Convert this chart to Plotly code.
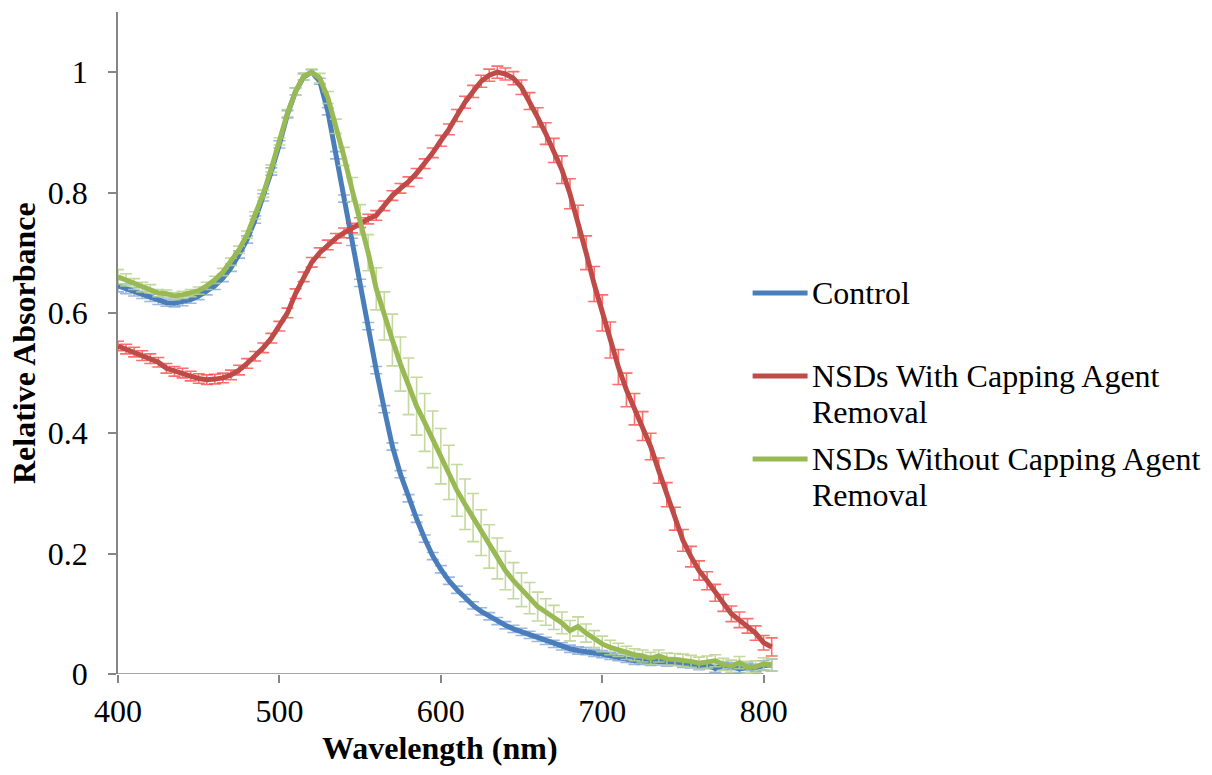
import plotly.graph_objects as go

# Wavelength grid (nm)
wavelength = list(range(400, 810, 5))

control = [
    0.645, 0.640, 0.635, 0.630, 0.625, 0.620, 0.617, 0.616, 0.618, 0.622,
    0.628, 0.636, 0.645, 0.658, 0.675, 0.697, 0.722, 0.755, 0.792, 0.835,
    0.880, 0.930, 0.968, 0.992, 1.000, 0.985, 0.935, 0.862, 0.790, 0.718,
    0.650, 0.578, 0.505, 0.440, 0.378, 0.332, 0.292, 0.258, 0.225, 0.196,
    0.174, 0.155, 0.140, 0.126, 0.114, 0.104, 0.096, 0.088, 0.081, 0.075,
    0.070, 0.065, 0.060, 0.055, 0.050, 0.046, 0.042, 0.039, 0.038, 0.035,
    0.033, 0.030, 0.028, 0.025, 0.022, 0.022, 0.020, 0.021, 0.019, 0.020,
    0.017, 0.016, 0.013, 0.015, 0.009, 0.014, 0.013, 0.008, 0.012, 0.010,
    0.014, 0.015,
]
control_err = [
    0.010, 0.008, 0.007, 0.006, 0.006, 0.006, 0.006, 0.006, 0.006, 0.006,
    0.006, 0.006, 0.006, 0.006, 0.006, 0.006, 0.006, 0.006, 0.006, 0.006,
    0.006, 0.006, 0.006, 0.005, 0.004, 0.005, 0.006, 0.006, 0.006, 0.006,
    0.006, 0.006, 0.006, 0.006, 0.006, 0.006, 0.006, 0.006, 0.006, 0.006,
    0.006, 0.006, 0.006, 0.006, 0.006, 0.006, 0.006, 0.006, 0.006, 0.006,
    0.006, 0.006, 0.006, 0.006, 0.006, 0.006, 0.006, 0.006, 0.006, 0.006,
    0.006, 0.006, 0.006, 0.006, 0.006, 0.006, 0.006, 0.006, 0.006, 0.006,
    0.006, 0.006, 0.006, 0.006, 0.006, 0.006, 0.006, 0.006, 0.006, 0.006,
    0.008, 0.010,
]

with_removal = [
    0.545, 0.540, 0.535, 0.529, 0.524, 0.518, 0.508, 0.503, 0.500, 0.495,
    0.491, 0.489, 0.490, 0.492, 0.497, 0.505, 0.516, 0.528, 0.542, 0.558,
    0.578, 0.600, 0.632, 0.660, 0.684, 0.700, 0.713, 0.724, 0.733, 0.741,
    0.750, 0.756, 0.762, 0.778, 0.795, 0.807, 0.818, 0.832, 0.848, 0.866,
    0.886, 0.905, 0.928, 0.950, 0.968, 0.985, 0.995, 1.000, 0.997, 0.990,
    0.975, 0.952, 0.925, 0.898, 0.870, 0.838, 0.798, 0.752, 0.700, 0.648,
    0.600, 0.555, 0.510, 0.472, 0.440, 0.412, 0.378, 0.338, 0.298, 0.258,
    0.222, 0.195, 0.172, 0.155, 0.135, 0.118, 0.100, 0.090, 0.080, 0.068,
    0.052, 0.045,
]
with_removal_err = [
    0.008, 0.008, 0.008, 0.008, 0.008, 0.008, 0.008, 0.008, 0.008, 0.008,
    0.008, 0.008, 0.008, 0.008, 0.008, 0.008, 0.008, 0.008, 0.008, 0.008,
    0.008, 0.008, 0.008, 0.008, 0.008, 0.008, 0.008, 0.008, 0.008, 0.008,
    0.008, 0.008, 0.008, 0.008, 0.008, 0.008, 0.008, 0.008, 0.008, 0.008,
    0.009, 0.009, 0.010, 0.010, 0.010, 0.010, 0.010, 0.010, 0.010, 0.011,
    0.012, 0.014, 0.016, 0.018, 0.020, 0.023, 0.025, 0.027, 0.028, 0.029,
    0.030, 0.030, 0.029, 0.028, 0.026, 0.024, 0.022, 0.021, 0.020, 0.019,
    0.018, 0.017, 0.016, 0.015, 0.014, 0.014, 0.013, 0.013, 0.012, 0.012,
    0.012, 0.015,
]

without_removal = [
    0.660, 0.655, 0.648, 0.643, 0.640, 0.633, 0.632, 0.628, 0.630, 0.633,
    0.637, 0.645, 0.655, 0.668, 0.685, 0.705, 0.730, 0.762, 0.798, 0.840,
    0.885, 0.932, 0.968, 0.993, 1.000, 0.990, 0.958, 0.910, 0.860, 0.805,
    0.755, 0.700, 0.640, 0.595, 0.555, 0.515, 0.478, 0.445, 0.418, 0.390,
    0.362, 0.335, 0.305, 0.282, 0.260, 0.235, 0.212, 0.192, 0.172, 0.155,
    0.140, 0.126, 0.112, 0.103, 0.094, 0.085, 0.072, 0.079, 0.068, 0.058,
    0.050, 0.044, 0.040, 0.035, 0.032, 0.030, 0.026, 0.030, 0.025, 0.024,
    0.023, 0.021, 0.018, 0.020, 0.022, 0.016, 0.013, 0.019, 0.011, 0.012,
    0.017, 0.015,
]
without_removal_err = [
    0.012, 0.010, 0.009, 0.008, 0.007, 0.006, 0.006, 0.006, 0.006, 0.006,
    0.006, 0.006, 0.006, 0.006, 0.006, 0.006, 0.006, 0.006, 0.006, 0.006,
    0.006, 0.006, 0.006, 0.006, 0.005, 0.008, 0.010, 0.012, 0.015, 0.020,
    0.025, 0.030, 0.035, 0.040, 0.043, 0.045, 0.047, 0.048, 0.048, 0.047,
    0.046, 0.045, 0.043, 0.042, 0.040, 0.038, 0.036, 0.034, 0.032, 0.030,
    0.028, 0.026, 0.024, 0.022, 0.020, 0.018, 0.017, 0.016, 0.015, 0.014,
    0.013, 0.012, 0.011, 0.011, 0.010, 0.010, 0.010, 0.010, 0.010, 0.010,
    0.010, 0.010, 0.010, 0.010, 0.010, 0.010, 0.010, 0.010, 0.010, 0.010,
    0.010, 0.010,
]

series_names = [
    "Control",
    "NSDs With Capping Agent Removal",
    "NSDs Without Capping Agent Removal",
]
# legend text, one entry per drawn line
legend_lines = [
    ["Control"],
    ["NSDs With Capping Agent", "Removal"],
    ["NSDs Without Capping Agent", "Removal"],
]
x_ticks = [400, 500, 600, 700, 800]
y_ticks = [0, 0.2, 0.4, 0.6, 0.8, 1]

FONT = "Liberation Serif"
FS = 32
AXIS_GRAY = "#868686"

# plot-area geometry in pixels (used to place the legend and titles)
L, T, W_PLOT, H_PLOT = 118, 12, 665.4, 662


def px_x(px):
    return (px - L) / W_PLOT


def px_y(py):
    return (T + H_PLOT - py) / H_PLOT


fig = go.Figure()

styles = [
    (control, control_err, "#4A7EBB", "rgba(120,160,215,0.75)"),
    (with_removal, with_removal_err, "#BE4B48", "rgba(255,60,60,0.75)"),
    (without_removal, without_removal_err, "#98B954", "rgba(185,210,140,0.85)"),
]
for name, (vals, errs, line_col, err_col) in zip(series_names, styles):
    fig.add_trace(go.Scatter(
        x=wavelength, y=vals, name=name, mode="lines",
        line=dict(color=line_col, width=5),
        error_y=dict(type="data", array=errs, visible=True,
                     color=err_col, thickness=1.6, width=6),
        showlegend=False,
        cliponaxis=False,
    ))

# x axis baseline spans only the labelled range
fig.add_shape(type="line", xref="x", yref="y", x0=400, x1=800, y0=0, y1=0,
              line=dict(color=AXIS_GRAY, width=1.5), layer="below")

annotations = [
    dict(text="<b>Wavelength (nm)</b>", xref="paper", yref="paper",
         x=px_x(440), y=px_y(748), xanchor="center", yanchor="middle",
         showarrow=False,
         font=dict(family=FONT, size=FS, color="#000000")),
    dict(text="<b>Relative Absorbance</b>", xref="paper", yref="paper",
         x=px_x(24), y=px_y(343), xanchor="center", yanchor="middle",
         showarrow=False, textangle=-90,
         font=dict(family=FONT, size=FS, color="#000000")),
]

# legend: line sample plus text lines
legend_rows = [293, 376, 459]
line_gap = 36
for (vals, errs, line_col, err_col), row_y, lines in zip(styles, legend_rows, legend_lines):
    fig.add_shape(type="line", xref="paper", yref="paper",
                  x0=px_x(753), x1=px_x(808), y0=px_y(row_y), y1=px_y(row_y),
                  line=dict(color=line_col, width=5))
    for i, txt in enumerate(lines):
        annotations.append(dict(
            text=txt, xref="paper", yref="paper",
            x=px_x(810), y=px_y(row_y + i * line_gap),
            xanchor="left", yanchor="middle", showarrow=False,
            font=dict(family=FONT, size=FS, color="#000000"),
        ))

fig.update_layout(
    width=1212, height=775,
    margin=dict(l=L, r=1212 - L - W_PLOT, t=T, b=775 - T - H_PLOT),
    paper_bgcolor="white", plot_bgcolor="white",
    showlegend=False,
    xaxis=dict(
        range=[400, 812], tickvals=x_ticks, ticktext=[str(v) for v in x_ticks],
        showline=False, showgrid=False, zeroline=False,
        ticks="outside", ticklen=8, tickwidth=1.5, tickcolor=AXIS_GRAY,
        ticklabelstandoff=1,
        tickfont=dict(family=FONT, size=FS, color="#000000"),
    ),
    yaxis=dict(
        range=[0, 1.1], tickvals=y_ticks, ticktext=["0", "0.2", "0.4", "0.6", "0.8", "1"],
        showline=True, linecolor=AXIS_GRAY, linewidth=1.5,
        showgrid=False, zeroline=False,
        ticks="outside", ticklen=8, tickwidth=1.5, tickcolor=AXIS_GRAY,
        ticklabelstandoff=14,
        tickfont=dict(family=FONT, size=FS, color="#000000"),
    ),
    annotations=annotations,
)

fig.write_html("out.html")
